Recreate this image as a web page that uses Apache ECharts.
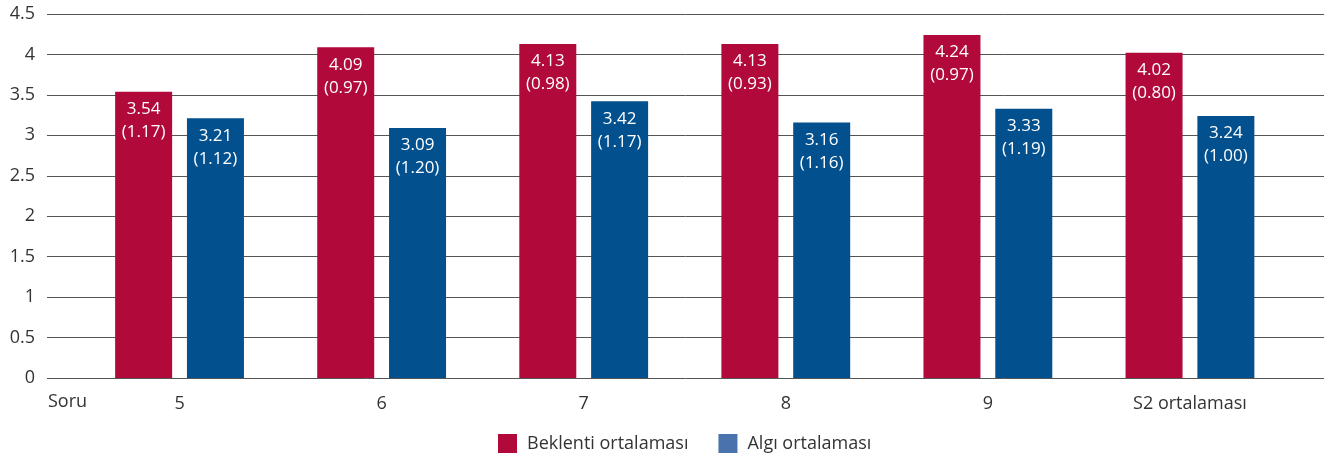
<!DOCTYPE html>
<html>
<head>
<meta charset="utf-8">
<script src="https://cdn.jsdelivr.net/npm/echarts@6/dist/echarts.min.js"></script>
<style>
  html, body { margin: 0; padding: 0; background: #fff; }
  #chart { width: 1324px; height: 454px; }
</style>
</head>
<body>
<div id="chart"></div>
<script>
var categories = ['5', '6', '7', '8', '9', 'S2 ortalaması'];
var beklenti = [3.54, 4.09, 4.13, 4.13, 4.24, 4.02];
var beklentiSd = ['1.17', '0.97', '0.98', '0.93', '0.97', '0.80'];
var algi = [3.21, 3.09, 3.42, 3.16, 3.33, 3.24];
var algiSd = ['1.12', '1.20', '1.17', '1.16', '1.19', '1.00'];
var yTicks = [0, 0.5, 1, 1.5, 2, 2.5, 3, 3.5, 4, 4.5];

window.onload = function () {
    var chartDom = document.getElementById('chart');
    var myChart = echarts.init(chartDom);
    var font = 'Open Sans';

    function labelFor(sd) {
        return {
            show: true,
            position: 'insideTop',
            distance: 6,
            color: '#fff',
            fontFamily: font,
            fontSize: 17,
            lineHeight: 23,
            formatter: function (p) {
                return p.value.toFixed(2) + '\n(' + sd[p.dataIndex] + ')';
            }
        };
    }

    var option = {
        animation: false,
        textStyle: { fontFamily: font },
        grid: [
            { left: 47, right: 0, top: 14, bottom: 76 },
            { left: 78.5, width: 1212.5, top: 14, bottom: 76 }
        ],
        xAxis: [
            { gridIndex: 0, type: 'value', min: 0, max: 1, show: false },
            {
                gridIndex: 1, type: 'category', data: categories,
                axisLine: { show: false }, axisTick: { show: false },
                axisLabel: { color: '#333', fontSize: 18, margin: 17, fontFamily: font }
            }
        ],
        yAxis: [
            {
                gridIndex: 0, type: 'value', min: 0, max: 4.5, interval: 0.5,
                axisLine: { show: false }, axisTick: { show: false },
                axisLabel: {
                    color: '#333', fontSize: 18, margin: 12, fontFamily: font,
                    formatter: function (v) { return yTicks.indexOf(v) >= 0 ? String(v) : ''; }
                },
                splitLine: { lineStyle: { color: '#555', width: 1 } }
            },
            { gridIndex: 1, type: 'value', min: 0, max: 4.5, show: false }
        ],
        legend: {
            top: 429,
            left: 493,
            itemWidth: 19,
            itemHeight: 19,
            itemGap: 30,
            icon: 'rect',
            textStyle: { color: '#333', fontSize: 18, fontFamily: font, padding: [0, 0, 0, 5] },
            data: [
                { name: 'Beklenti ortalaması', itemStyle: { color: '#b0093a' } },
                { name: 'Algı ortalaması', itemStyle: { color: '#4a73ad' } }
            ]
        },
        graphic: [{
            type: 'text', left: 48, top: 393,
            style: { text: 'Soru', fill: '#333', font: '18px "Open Sans"' }
        }],
        series: [
            {
                name: 'Beklenti ortalaması', type: 'bar',
                xAxisIndex: 1, yAxisIndex: 1,
                data: beklenti, barWidth: 57, barGap: '26%',
                itemStyle: { color: '#b0093a' },
                label: labelFor(beklentiSd)
            },
            {
                name: 'Algı ortalaması', type: 'bar',
                xAxisIndex: 1, yAxisIndex: 1,
                data: algi, barWidth: 57,
                itemStyle: { color: '#03508f' },
                label: labelFor(algiSd)
            }
        ]
    };

    myChart.setOption(option);
};
</script>
</body>
</html>
